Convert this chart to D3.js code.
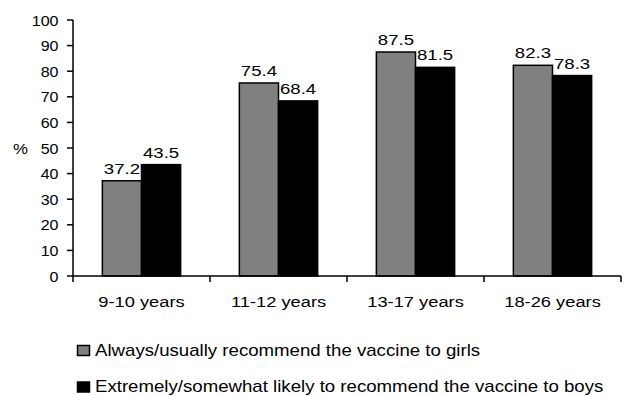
<!DOCTYPE html>
<html>
<head>
<meta charset="utf-8">
<script src="https://cdn.jsdelivr.net/npm/d3@7"></script>
<style>
  html, body { margin: 0; padding: 0; background: #fff; }
  svg text { font-family: Arial, "Liberation Sans", sans-serif; fill: #000; }
</style>
</head>
<body>
<svg id="chart" width="623" height="396"></svg>
<script>
// Age groups on the x axis
const categories = ["9-10 years", "11-12 years", "13-17 years", "18-26 years"];
// Series labels and values (%)
const seriesNames = [
  "Always/usually recommend the vaccine to girls",
  "Extremely/somewhat likely to recommend the vaccine to boys"
];
const girls = [37.2, 75.4, 87.5, 82.3];
const boys = [43.5, 68.4, 81.5, 78.3];
const yTicks = [0, 10, 20, 30, 40, 50, 60, 70, 80, 90, 100];
const seriesColors = ["#808080", "#000000"];

const series = [girls, boys];
const svg = d3.select("#chart");

const plotLeft = 73, plotRight = 621, plotTop = 20, plotBottom = 276;

const y = d3.scaleLinear().domain([0, 100]).range([plotBottom, plotTop]);
const x0 = d3.scaleBand().domain(categories).range([plotLeft, plotRight]).padding(0);
const x1 = d3.scaleBand().domain([0, 1]).range([0, x0.bandwidth()])
  .paddingInner(0).paddingOuter(0.75);

// text helper: size and horizontal stretch per text group
function label(g, tx, ty, str, anchor, size, sx) {
  return g.append("g")
    .attr("transform", `translate(${tx},${ty}) scale(${sx},1)`)
    .append("text")
    .attr("text-anchor", anchor || "start")
    .style("font-size", size + "px")
    .text(str);
}

// Bars
const groups = svg.append("g").selectAll("g")
  .data(categories)
  .join("g")
  .attr("transform", d => `translate(${x0(d)},0)`);

groups.each(function(cat, i) {
  const g = d3.select(this);
  series.forEach((vals, s) => {
    const v = vals[i];
    g.append("rect")
      .attr("x", x1(s))
      .attr("y", y(v))
      .attr("width", x1.bandwidth())
      .attr("height", y(0) - y(v))
      .attr("fill", seriesColors[s])
      .attr("stroke", "#000")
      .attr("stroke-width", 1.5);
    label(g, x1(s) + x1.bandwidth() / 2, y(v) - 7, v.toFixed(1), "middle", 15, 1.24);
  });
});

// Y axis
const yAxis = svg.append("g");
yAxis.append("line")
  .attr("x1", plotLeft).attr("x2", plotLeft)
  .attr("y1", y(100)).attr("y2", y(0))
  .attr("stroke", "#000").attr("stroke-width", 1.5);
yTicks.forEach(t => {
  yAxis.append("line")
    .attr("x1", plotLeft - 6).attr("x2", plotLeft)
    .attr("y1", y(t)).attr("y2", y(t))
    .attr("stroke", "#000").attr("stroke-width", 1.5);
  label(yAxis, plotLeft - 14.5, y(t) + 5.5, String(t), "end", 15, 1.07);
});
label(svg, 13, y(50) + 5.5, "%", "start", 15, 1.12);

// X axis
const xAxis = svg.append("g");
xAxis.append("line")
  .attr("x1", plotLeft).attr("x2", plotRight)
  .attr("y1", y(0)).attr("y2", y(0))
  .attr("stroke", "#000").attr("stroke-width", 1.5);
const bounds = categories.map(c => x0(c)).concat([x0(categories[categories.length - 1]) + x0.bandwidth()]);
bounds.forEach(bx => {
  xAxis.append("line")
    .attr("x1", bx).attr("x2", bx)
    .attr("y1", y(0)).attr("y2", y(0) + 6)
    .attr("stroke", "#000").attr("stroke-width", 1.5);
});
categories.forEach(c => {
  label(xAxis, x0(c) + x0.bandwidth() / 2, 307, c, "middle", 15, 1.22);
});

// Legend
const legend = svg.append("g");
seriesNames.forEach((name, s) => {
  const base = 355.5 + s * 36.5;
  legend.append("rect")
    .attr("x", 77.5).attr("y", base - 10)
    .attr("width", 12).attr("height", 10)
    .attr("fill", seriesColors[s])
    .attr("stroke", "#000").attr("stroke-width", 1.5);
  label(legend, 95, base, name, "start", 16, 1.165);
});
</script>
</body>
</html>
